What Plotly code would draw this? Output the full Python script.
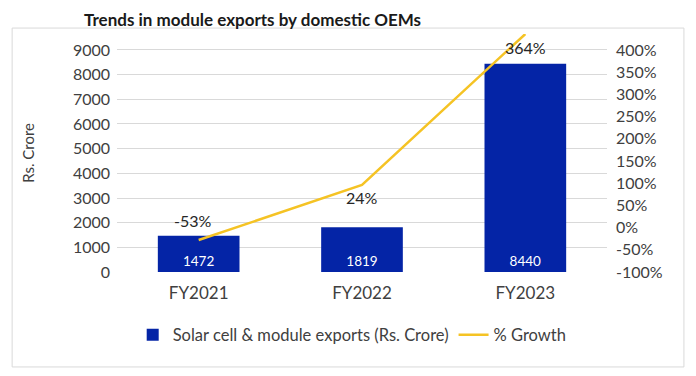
import plotly.graph_objects as go

categories = ["FY2021", "FY2022", "FY2023"]
exports_crore = [1472, 1819, 8440]
growth_labels = ["-53%", "24%", "364%"]
# growth line as drawn in the picture (right axis, %)
growth_line_pct = [-28, 96, 436]

left_ticks = list(range(0, 9001, 1000))
right_ticks = list(range(-100, 401, 50))

FONT = "Lato, 'Open Sans', sans-serif"
TXT = "#404040"

# page body has an 8px default margin -> figure is 8px smaller and offsets shifted
W, H = 688, 368
ML, MT, PW, PH = 109, 26, 490, 238

fig = go.Figure()
fig.add_trace(go.Bar(
    x=categories, y=exports_crore, name="Solar cell & module exports (Rs. Crore)",
    marker=dict(color="#0424A6", line=dict(width=0)),
    text=[str(v) for v in exports_crore], textposition="inside",
    insidetextanchor="start", textfont=dict(color="white", size=13.5, family=FONT),
    cliponaxis=False,
))
fig.add_trace(go.Scatter(
    x=categories, y=growth_line_pct, name="% Growth", yaxis="y2",
    mode="lines", line=dict(color="#F5C324", width=2.5),
))

shifts = [(-6, 20), (0, -13), (0, -13)]
for c, v, t, (dx, dy) in zip(categories, growth_line_pct, growth_labels, shifts):
    fig.add_annotation(x=c, y=v, yref="y2", text=t, showarrow=False,
                       xshift=dx, yshift=dy, font=dict(size=16, color="#262626", family=FONT))

fig.add_annotation(x=-0.182, y=0.5, xref="paper", yref="paper", text="Rs. Crore",
                   textangle=-90, showarrow=False, xanchor="center", yanchor="middle",
                   font=dict(size=15, color=TXT, family=FONT))

# chart title, placed at the top-left of the figure
fig.add_annotation(x=(75 - ML) / PW, y=(MT + PH) / PH, xref="paper", yref="paper",
                   text="<b>Trends in module exports by domestic OEMs</b>",
                   showarrow=False, xanchor="left", yanchor="top", borderpad=0,
                   font=dict(size=17, color="#1a1a1a", family=FONT))

fig.add_shape(type="rect", xref="paper", yref="paper", x0=-0.214, x1=1.157,
              y0=-0.399, y1=1.025, line=dict(color="#D9D9D9", width=1), layer="below")

fig.update_layout(
    width=W, height=H,
    margin=dict(l=ML, r=W - ML - PW, t=MT, b=H - MT - PH, autoexpand=False),
    paper_bgcolor="white", plot_bgcolor="white",
    font=dict(family=FONT, color=TXT, size=16),
    bargap=0.5,
    showlegend=True,
    legend=dict(orientation="h", x=0.48, xanchor="center", y=-0.265, yanchor="middle",
                font=dict(size=16.5, color=TXT, family=FONT), itemwidth=30,
                traceorder="normal"),
    xaxis=dict(showgrid=False, showline=False, ticks="", tickfont=dict(size=17),
               ticklabelstandoff=9, automargin=False),
    yaxis=dict(range=[0, 9648], tickvals=left_ticks, showgrid=True, gridcolor="#D9D9D9",
               gridwidth=1, zeroline=False, showline=False, ticklabelstandoff=6,
               tickfont=dict(size=16), automargin=False),
    yaxis2=dict(range=[-100, 436], tickvals=right_ticks,
                ticktext=[f"{v}%" for v in right_ticks], overlaying="y", side="right",
                showgrid=False, zeroline=False, showline=False, ticklabelstandoff=8,
                tickfont=dict(size=16), automargin=False),
)

fig.write_html("out.html")
